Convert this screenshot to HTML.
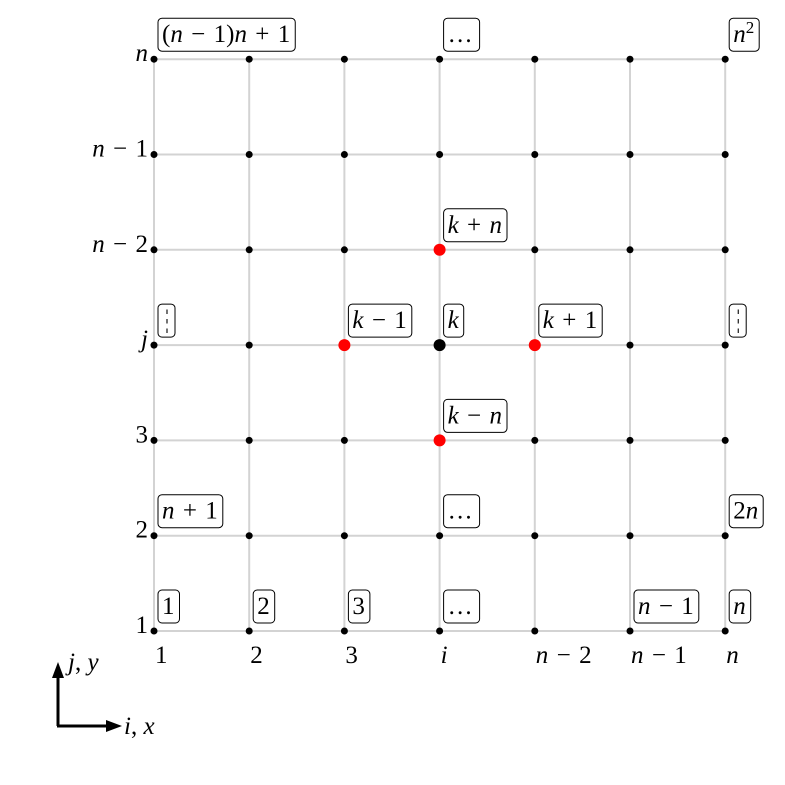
<!DOCTYPE html>
<html><head><meta charset="utf-8">
<style>
html,body{margin:0;padding:0;background:#fff;}
svg{display:block;font-family:"Liberation Serif","DejaVu Serif",serif;}
</style></head>
<body>
<svg id="chart" width="785" height="785" viewBox="0 0 785 785" xmlns="http://www.w3.org/2000/svg">
<g id="grid"></g>
<g id="ticks"></g>
<g id="dots"></g>
<g id="boxes"></g>
<g>
  <line x1="58" y1="726" x2="58" y2="676" stroke="#000" stroke-width="3"/>
  <polygon points="52,678 64,678 58,662" fill="#000"/>
  <line x1="57" y1="726" x2="108" y2="726" stroke="#000" stroke-width="3"/>
  <polygon points="106,720 106,732 122,726" fill="#000"/>
  <text x="68" y="670" font-size="25"><tspan font-style="italic">j</tspan>, <tspan font-style="italic">y</tspan></text>
  <text x="124" y="734" font-size="25"><tspan font-style="italic">i</tspan>, <tspan font-style="italic">x</tspan></text>
</g>
</svg>
<script>
const xTickLabels = ["1","2","3","i","n − 2","n − 1","n"];
const yTickLabels = ["1","2","3","j","n − 2","n − 1","n"];
const boxCols = [0,3,6,3,0,2,3,4,6,3,0,3,6,0,1,2,3,5,6];
const boxRows = [6,6,6,4,3,3,3,3,3,2,1,1,1,0,0,0,0,0,0];
const boxTexts = ["(n − 1)n + 1","…","n^2","k + n","⋮","k − 1","k","k + 1","⋮","k − n","n + 1","…","2n","1","2","3","…","n − 1","n"];
const redCols = [2,4,3,3];
const redRows = [3,3,4,2];
const centerCol = [3];
const centerRow = [3];

const NS="http://www.w3.org/2000/svg";
const sx = i => 154 + i*95.2;
const sy = j => 631 - j*95.3;
function el(tag, attrs, parent){const e=document.createElementNS(NS,tag);for(const k in attrs)e.setAttribute(k,attrs[k]);parent.appendChild(e);return e;}
function mathText(t, str){
  str = str.replace(/ /g,'\u2004');
  let i=0;
  while(i<str.length){
    const c=str[i];
    if(c==='^'){const s=el('tspan',{'font-size':'17',dy:'-9'},t);s.textContent=str[i+1];i+=2;continue;}
    const ts=el('tspan',{},t);
    if(/[a-z]/.test(c)) ts.setAttribute('font-style','italic');
    if(c==='…'){ts.setAttribute('letter-spacing','8');}
    ts.textContent=c; i++;
  }
}
const grid=document.getElementById('grid');
for(let i=0;i<7;i++){
  const v=el('line',{x1:sx(i),x2:sx(i),y1:sy(0),y2:sy(6),stroke:'#d3d3d3','stroke-width':2},grid);
  
  
  const h=el('line',{x1:sx(0),x2:sx(6),y1:sy(i),y2:sy(i),stroke:'#d3d3d3','stroke-width':2},grid);
  
  
}
const ticks=document.getElementById('ticks');
xTickLabels.forEach((l,i)=>{
  const t=el('text',{x:sx(i)+1,y:sy(0)+32,'font-size':'25','text-anchor':'start'},ticks);
  
  
  mathText(t,l);
});
yTickLabels.forEach((l,j)=>{
  const t=el('text',{x:sx(0)-6,y:sy(j)+2,'font-size':'25','text-anchor':'end'},ticks);
  
  
  mathText(t,l);
});
const dots=document.getElementById('dots');
for(let i=0;i<7;i++)for(let j=0;j<7;j++){
  const c=el('circle',{cx:sx(i),cy:sy(j),r:3.5,fill:'#000'},dots);
  
  
}
redCols.forEach((c,k)=>{
  const d=el('circle',{cx:sx(c),cy:sy(redRows[k]),r:6,fill:'#f00'},dots);
  
  
});
centerCol.forEach((c,k)=>{
  const d=el('circle',{cx:sx(c),cy:sy(centerRow[k]),r:6,fill:'#000'},dots);
  
  
});
const boxes=document.getElementById('boxes');
boxTexts.forEach((s,k)=>{
  const x=sx(boxCols[k])+4, yb=sy(boxRows[k])-8;
  const g=el('g',{},boxes);
  
  
  const r=el('rect',{x:x,y:yb-33,height:33,rx:4,fill:'#fff',stroke:'#000','stroke-width':1},g);
  const t=el('text',{x:x+4,y:yb-9,'font-size':'25'},g);
  mathText(t,s);
  let w=t.getComputedTextLength();
  if(s.indexOf('…')>=0) w -= 6;
  if(s==='⋮'){ w=8; t.setAttribute('x', x+5); t.setAttribute('y', yb-7); t.setAttribute('font-size','28'); t.setAttribute('font-weight','bold'); t.setAttribute('textLength','8'); t.setAttribute('lengthAdjust','spacingAndGlyphs'); }
  r.setAttribute('width',w+9);
});
</script>
</body></html>
